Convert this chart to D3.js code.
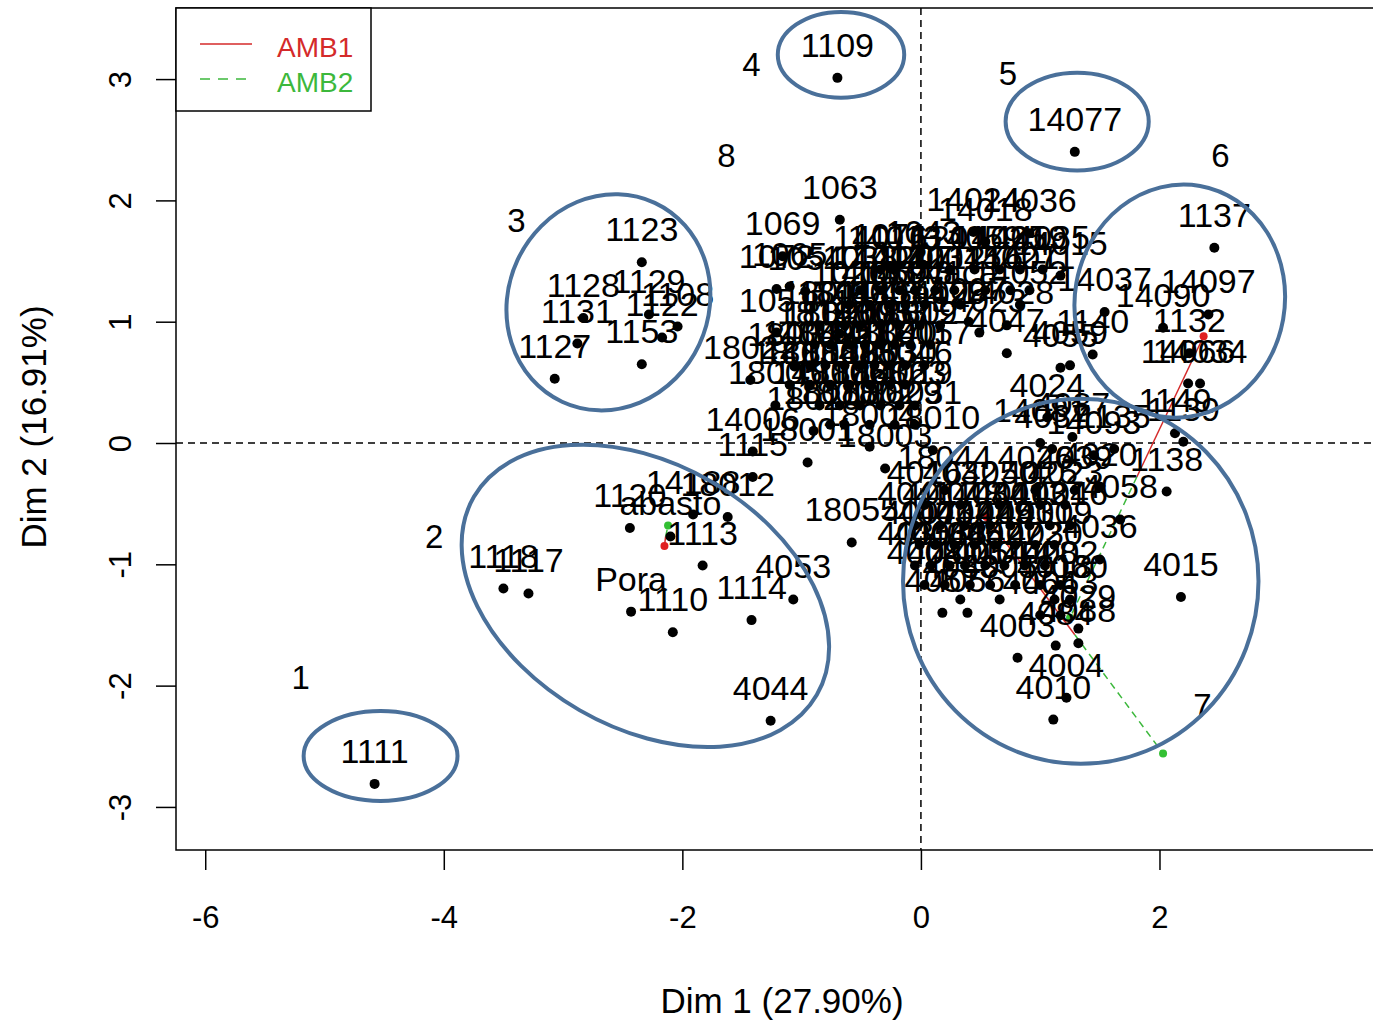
<!DOCTYPE html>
<html>
<head>
<meta charset="utf-8">
<script src="https://cdn.jsdelivr.net/npm/d3@7"></script>
<style>
  body { margin: 0; background: #fff; }
  text { font-family: "Liberation Sans", Arial, sans-serif; }
</style>
</head>
<body>
<svg></svg>
<script>
// individuals: [label, Dim 1, Dim 2]
var leftInds = [
  ["1111", -4.58, -2.81], ["1118", -3.50, -1.20], ["1117", -3.29, -1.24],
  ["Pora", -2.43, -1.39], ["1110", -2.08, -1.56], ["1114", -1.42, -1.46],
  ["4053", -1.07, -1.29], ["4044", -1.26, -2.29], ["1113", -1.83, -1.01],
  ["abasto", -2.10, -0.77], ["1120", -2.44, -0.70], ["14188", -1.91, -0.59],
  ["18012", -1.62, -0.61], ["1115", -1.41, -0.28], ["14006", -1.41, -0.07],
  ["18001", -0.95, -0.16], ["18055", -0.58, -0.82],
  ["1123", -2.34, 1.49], ["1128", -2.83, 1.03], ["1131", -2.88, 0.82],
  ["1129", -2.28, 1.06], ["1108", -2.04, 0.96], ["1122", -2.17, 0.87],
  ["1153", -2.34, 0.65], ["1127", -3.07, 0.53]
];

var topInds = [
  ["1109", -0.70, 3.01], ["14077", 1.29, 2.40], ["1063", -0.68, 1.84],
  ["1069", -1.16, 1.54], ["1072", -1.21, 1.27], ["1065", -1.10, 1.29],
  ["1054", -0.97, 1.25], ["1071", -0.26, 1.44], ["1043", 0.02, 1.47],
  ["14024", 0.44, 1.74], ["14018", 0.54, 1.66], ["14036", 0.91, 1.73]
];

var centerInds = [
  ["1051", -1.21, 0.91], ["P12", -0.68, 0.90], ["18037", -1.06, 0.63],
  ["18022", -1.43, 0.52], ["18005", -1.22, 0.31],
  ["14016", -0.34, 1.43], ["14013", -0.22, 1.43], ["1201", 0.24, 1.43],
  ["14059", 0.45, 1.43], ["14025", 0.66, 1.43], ["14019", 0.83, 1.43],
  ["14035", 1.02, 1.43], ["14015", 1.17, 1.38],
  ["1038", -0.51, 1.26], ["14012", -0.34, 1.26], ["14041", -0.18, 1.26],
  ["1207", -0.05, 1.26], ["14031", 0.12, 1.26], ["12045", 0.28, 1.26],
  ["1276", 0.54, 1.26], ["14027", 0.75, 1.26], ["14011", 0.91, 1.26],
  ["1026", -0.60, 1.14], ["14033", -0.43, 1.14], ["1059", -0.26, 1.14],
  ["14043", -0.13, 1.14], ["1041", 0.03, 1.14], ["Vaca", 0.33, 1.14],
  ["14052", 0.83, 1.14],
  ["1801", -0.85, 0.97], ["18041", -0.64, 0.97], ["14005", -0.51, 0.97],
  ["1048", -0.34, 0.97], ["18014", -0.18, 0.97], ["Sap", -0.01, 0.97],
  ["14029", 0.16, 0.97], ["1027", 0.40, 1.00], ["14023", 0.49, 0.91],
  ["14028", 0.72, 0.97], ["4047", 0.72, 0.74],
  ["1818", -0.89, 0.81], ["18026", -0.76, 0.81], ["18009", -0.60, 0.81],
  ["14003", -0.47, 0.81], ["18033", -0.34, 0.81], ["1057", -0.22, 0.81],
  ["18019", -0.09, 0.81], ["18027", 0.08, 0.81],
  ["14042", -0.93, 0.64], ["18015", -0.80, 0.64], ["18021", -0.64, 0.64],
  ["18017", -0.51, 0.64], ["14007", -0.39, 0.64], ["18040", -0.26, 0.64],
  ["18011", -0.13, 0.64], ["18057", 0.03, 0.64],
  ["1800", -1.10, 0.48], ["18034", -0.93, 0.48], ["18008", -0.76, 0.48],
  ["18025", -0.60, 0.48], ["18013", -0.43, 0.48], ["18030", -0.26, 0.48],
  ["18046", -0.13, 0.48],
  ["14017", -0.85, 0.31], ["18006", -0.68, 0.31], ["18028", -0.51, 0.31],
  ["18016", -0.34, 0.31], ["18023", -0.18, 0.31], ["4019", -0.05, 0.31],
  ["18018", -0.76, 0.15], ["18007", -0.64, 0.15], ["18002", -0.43, 0.15],
  ["18029", -0.22, 0.15], ["18031", -0.05, 0.15], ["18020", -0.90, 0.10],
  ["18004", -0.43, -0.03], ["18003", -0.30, -0.21], ["18010", 0.10, -0.06],
  ["4024", 1.06, 0.21], ["4055", 1.17, 0.62], ["4059", 1.25, 0.64],
  ["4087", 1.27, 0.05], ["14081", 1.00, 0.00], ["4037", 1.10, -0.05],
  ["14093", 1.45, -0.10], ["1135", 1.62, -0.05]
];

var rightInds = [
  ["1137", 2.46, 1.61], ["14037", 1.54, 1.08], ["14097", 2.41, 1.06],
  ["14090", 2.03, 0.95], ["1132", 2.25, 0.74], ["14066", 2.24, 0.49],
  ["14034", 2.34, 0.49], ["1140", 1.44, 0.73], ["1149", 2.13, 0.08],
  ["1139", 2.20, 0.01]
];

var lowerInds = [
  ["1138", 2.06, -0.40], ["4058", 1.67, -0.63], ["4036", 1.50, -0.96],
  ["4015", 2.18, -1.27], ["4003", 0.81, -1.77], ["4004", 1.22, -2.10],
  ["4010", 1.11, -2.28], ["4084", 1.13, -1.67], ["4088", 1.32, -1.65],
  ["4029", 1.32, -1.53],
  ["18044", 0.20, -0.39], ["4026", 0.96, -0.39], ["4039", 1.29, -0.39],
  ["4020", 1.50, -0.36],
  ["4016", 0.03, -0.51], ["4032", 0.33, -0.51], ["4050", 0.66, -0.51],
  ["4025", 1.00, -0.51], ["4023", 1.21, -0.51],
  ["4041", -0.05, -0.68], ["4017", 0.16, -0.68], ["4048", 0.37, -0.68],
  ["4034", 0.58, -0.68], ["4011", 0.75, -0.68], ["4013", 0.91, -0.68],
  ["4021", 1.08, -0.68], ["4046", 1.25, -0.68],
  ["4007", -0.01, -0.84], ["4043", 0.12, -0.84], ["4012", 0.28, -0.84],
  ["4042", 0.45, -0.84], ["4049", 0.62, -0.84], ["4051", 0.79, -0.84],
  ["4031", 0.96, -0.84], ["4009", 1.12, -0.84],
  ["4035", -0.05, -1.01], ["4006", 0.08, -1.01], ["4038", 0.24, -1.01],
  ["4045", 0.37, -1.01], ["4052", 0.54, -1.01], ["4027", 0.70, -1.01],
  ["4022", 0.87, -1.01], ["4030", 1.04, -1.01],
  ["4008", 0.03, -1.17], ["4040", 0.20, -1.17], ["4001", 0.41, -1.17],
  ["4054", 0.58, -1.17], ["4014", 0.79, -1.17], ["4028", 1.00, -1.17],
  ["4002", 1.17, -1.17],
  ["4033", 0.33, -1.29], ["4005", 0.66, -1.29], ["4018", 1.12, -1.29],
  ["4060", 1.25, -1.29],
  ["4057", 0.18, -1.40], ["4056", 0.39, -1.40], ["4064", 1.00, -1.42],
  ["4063", 1.17, -1.42]
];

// partial individuals (mean point, AMB1 point, AMB2 point)
var partialMean = [[1.81, -0.28], [1.29, -1.58], [-2.14, -0.77]];
var partialAmb1 = [[2.37, 0.88], [0.55, -0.61], [-2.15, -0.85]];
var partialAmb2 = [[1.25, -1.44], [2.03, -2.56], [-2.12, -0.68]];

// group annotations
var groupNames = ["1", "2", "3", "4", "5", "6", "7", "8"];
var groupDim1 = [-5.20, -4.08, -3.39, -1.42, 0.73, 2.51, 2.36, -1.63];
var groupDim2 = [-1.93, -0.77, 1.84, 3.12, 3.05, 2.37, -2.16, 2.37];

// ellipses: centre, radii (Dim 1 units), rotation in degrees
var ellCx = [-4.53, -2.31, -2.62, -0.67, 1.31, 2.17, 1.34];
var ellCy = [-2.58, -1.26, 1.16, 3.20, 2.65, 1.17, -1.14];
var ellRx = [0.645, 1.66, 0.84, 0.53, 0.60, 0.88, 1.49];
var ellRy = [0.377, 1.106, 0.92, 0.36, 0.41, 0.98, 1.53];
var ellAngle = [0, 30, 25, 0, 0, 10, 0];

var xTicks = [-6, -4, -2, 0, 2];
var yTicks = [-3, -2, -1, 0, 1, 2, 3];

var width = 1373;
var height = 1026;
var plotLeft = 176, plotRight = 1373, plotTop = 8, plotBottom = 850;

var xScale = d3.scaleLinear()
          .domain([-6.245, 3.79])
          .range([plotLeft, plotRight]);

var yScale = d3.scaleLinear()
          .domain([-3.355, 3.586])
          .range([plotBottom, plotTop]);

var kx = xScale(1) - xScale(0);

var svg = d3.select('svg')
    .attr('width', width)
    .attr('height', height);

// dashed reference lines
svg.append('line')
    .attr('x1', xScale(0)).attr('x2', xScale(0))
    .attr('y1', plotTop).attr('y2', plotBottom)
    .attr('stroke', '#000').attr('stroke-width', 1.5)
    .attr('stroke-dasharray', '7,5');
svg.append('line')
    .attr('x1', plotLeft).attr('x2', plotRight)
    .attr('y1', yScale(0)).attr('y2', yScale(0))
    .attr('stroke', '#000').attr('stroke-width', 1.5)
    .attr('stroke-dasharray', '7,5');

var inds = leftInds.concat(topInds, centerInds, rightInds, lowerInds);

// partial lines
svg.selectAll('line.amb1')
  .data(partialMean)
  .enter()
  .append('line')
    .attr('class', 'amb1')
    .attr('x1', d => xScale(d[0]))
    .attr('y1', d => yScale(d[1]))
    .attr('x2', (d, i) => xScale(partialAmb1[i][0]))
    .attr('y2', (d, i) => yScale(partialAmb1[i][1]))
    .attr('stroke', '#d42a2a')
    .attr('stroke-width', 1.5);

svg.selectAll('line.amb2')
  .data(partialMean)
  .enter()
  .append('line')
    .attr('class', 'amb2')
    .attr('x1', d => xScale(d[0]))
    .attr('y1', d => yScale(d[1]))
    .attr('x2', (d, i) => xScale(partialAmb2[i][0]))
    .attr('y2', (d, i) => yScale(partialAmb2[i][1]))
    .attr('stroke', '#3cb83c')
    .attr('stroke-width', 1.5)
    .attr('stroke-dasharray', '7,5');

// points
svg.selectAll('circle.ind')
  .data(inds)
  .enter()
  .append('circle')
    .attr('class', 'ind')
    .attr('cx', d => xScale(d[1]))
    .attr('cy', d => yScale(d[2]))
    .attr('r', 5)
    .attr('fill', '#000');

svg.selectAll('circle.p1')
  .data(partialAmb1)
  .enter()
  .append('circle')
    .attr('class', 'p1')
    .attr('cx', d => xScale(d[0]))
    .attr('cy', d => yScale(d[1]))
    .attr('r', 4)
    .attr('fill', '#e02020');

svg.selectAll('circle.p2')
  .data(partialAmb2)
  .enter()
  .append('circle')
    .attr('class', 'p2')
    .attr('cx', d => xScale(d[0]))
    .attr('cy', d => yScale(d[1]))
    .attr('r', 4)
    .attr('fill', '#33c033');

// labels
svg.selectAll('text.lab')
  .data(inds)
  .enter()
  .append('text')
    .attr('class', 'lab')
    .attr('x', d => xScale(d[1]))
    .attr('y', d => yScale(d[2]) - 21)
    .style('font-size', '34px')
    .style('text-anchor', 'middle')
    .text(d => d[0]);

// group numbers
svg.selectAll('text.grp')
  .data(groupNames)
  .enter()
  .append('text')
    .attr('class', 'grp')
    .attr('x', (d, i) => xScale(groupDim1[i]))
    .attr('y', (d, i) => yScale(groupDim2[i]))
    .attr('dy', '0.36em')
    .style('font-size', '33px')
    .style('text-anchor', 'middle')
    .text(d => d);

// ellipses
svg.selectAll('ellipse')
  .data(ellCx)
  .enter()
  .append('ellipse')
    .attr('transform', (d, i) => 'translate(' + xScale(d) + ',' + yScale(ellCy[i]) + ') rotate(' + ellAngle[i] + ')')
    .attr('rx', (d, i) => ellRx[i] * kx)
    .attr('ry', (d, i) => ellRy[i] * kx)
    .attr('fill', 'none')
    .attr('stroke', '#4a709a')
    .attr('stroke-width', 4);

// box
svg.append('rect')
    .attr('x', plotLeft).attr('y', plotTop)
    .attr('width', plotRight - plotLeft + 20).attr('height', plotBottom - plotTop)
    .attr('fill', 'none')
    .attr('stroke', '#000')
    .attr('stroke-width', 1.5);

// axes
var xAxis = d3.axisBottom(xScale)
        .tickValues(xTicks)
        .tickSize(20)
        .tickFormat(d => String(d));
var yAxis = d3.axisLeft(yScale)
        .tickValues(yTicks)
        .tickSize(20)
        .tickFormat(d => String(d));

var gx = svg.append('g')
    .attr('transform', 'translate(0,' + plotBottom + ')')
    .call(xAxis);
gx.select('.domain').remove();
gx.selectAll('line').attr('stroke', '#000').attr('stroke-width', 1.5);
gx.selectAll('text')
    .attr('y', 78).attr('dy', 0)
    .attr('fill', '#000')
    .style('font-size', '31px')
    .style('font-family', '"Liberation Sans", Arial, sans-serif');

var gy = svg.append('g')
    .attr('transform', 'translate(' + plotLeft + ',0)')
    .call(yAxis);
gy.select('.domain').remove();
gy.selectAll('line').attr('stroke', '#000').attr('stroke-width', 1.5);
gy.selectAll('text')
    .attr('transform', 'rotate(-90)')
    .attr('x', 0).attr('y', -45).attr('dy', 0)
    .attr('fill', '#000')
    .style('text-anchor', 'middle')
    .style('font-size', '31px')
    .style('font-family', '"Liberation Sans", Arial, sans-serif');

// axis titles
svg.append('text')
    .attr('x', 782)
    .attr('y', 1013)
    .style('font-size', '35px')
    .style('text-anchor', 'middle')
    .text('Dim 1 (27.90%)');

svg.append('text')
    .attr('transform', 'translate(46,427) rotate(-90)')
    .style('font-size', '35px')
    .style('text-anchor', 'middle')
    .text('Dim 2 (16.91%)');

// legend
var legend = svg.append('g');
legend.append('rect')
    .attr('x', plotLeft).attr('y', plotTop)
    .attr('width', 195).attr('height', 103)
    .attr('fill', '#fff')
    .attr('stroke', '#000')
    .attr('stroke-width', 1.5);
legend.append('line')
    .attr('x1', 200).attr('x2', 252)
    .attr('y1', 44).attr('y2', 44)
    .attr('stroke', '#d42a2a').attr('stroke-width', 1.5);
legend.append('line')
    .attr('x1', 200).attr('x2', 250)
    .attr('y1', 79).attr('y2', 79)
    .attr('stroke', '#3cb83c').attr('stroke-width', 1.5)
    .attr('stroke-dasharray', '10,8');
legend.append('text')
    .attr('x', 277).attr('y', 57)
    .attr('fill', '#d42a2a')
    .style('font-size', '28px')
    .text('AMB1');
legend.append('text')
    .attr('x', 277).attr('y', 92)
    .attr('fill', '#3cb83c')
    .style('font-size', '28px')
    .text('AMB2');
</script>
</body>
</html>
